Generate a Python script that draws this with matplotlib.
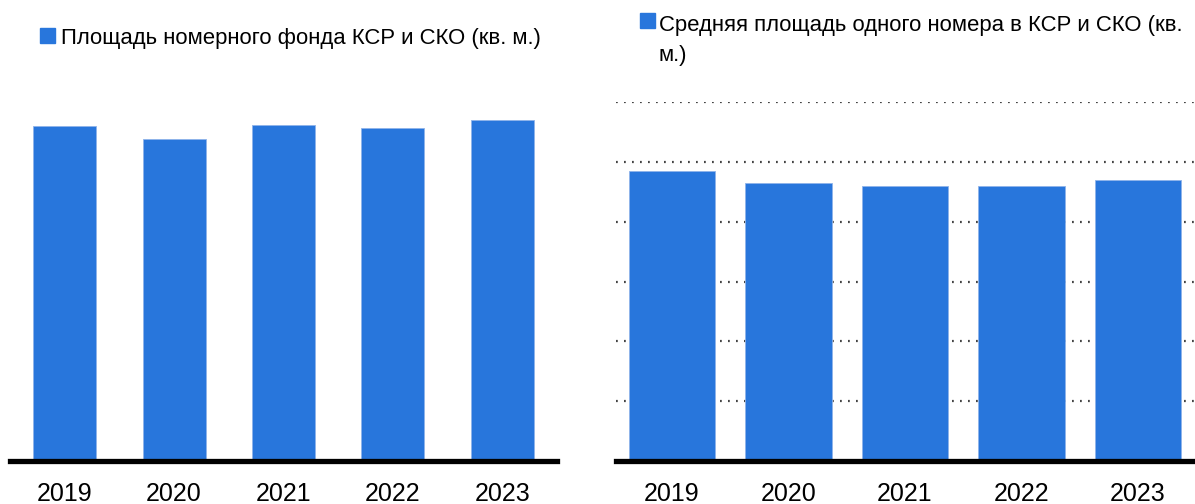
import matplotlib
matplotlib.use("Agg")
import matplotlib.pyplot as plt
from matplotlib.patches import Rectangle

# data
years = ["2019", "2020", "2021", "2022", "2023"]
room_area = [5600, 5380, 5620, 5570, 5700]        # площадь номерного фонда, кв. м (оценка)
avg_room_area = [24.2, 23.2, 23.0, 23.0, 23.5]    # средняя площадь номера, кв. м (оценка)
label_left = "Площадь номерного фонда КСР и СКО (кв. м.)"
label_right = "Средняя площадь одного номера в КСР и СКО (кв.\nм.)"

blue = "#2876dc"
plt.rcParams["font.family"] = ["Liberation Sans", "DejaVu Sans"]

W, H = 1195, 504
fig = plt.figure(figsize=(W / 100, H / 100), dpi=100)


def box(x0, y0, x1, y1):
    return [x0 / W, 1 - y1 / H, (x1 - x0) / W, (y1 - y0) / H]


ax1 = fig.add_axes(box(10, 102, 557, 461))
ax2 = fig.add_axes(box(616, 102, 1195, 461))

x = range(len(years))
ax1.bar(x, room_area, width=0.575, color=blue, edgecolor="#8fb4ea", linewidth=0.6, zorder=3)
ax1.set_xlim(-0.5, 4.5)
ax1.set_ylim(0, 6000)

ax2.bar(x, avg_room_area, width=0.74, color=blue, edgecolor="#8fb4ea", linewidth=0.6, zorder=3)
ax2.set_xlim(-0.48, 4.49)
ax2.set_ylim(0, 30)
for y in range(5, 31, 5):
    ax2.axhline(y, color="#444444", linewidth=1.6, linestyle=(0, (0.8, 2.8)), zorder=1)

for ax in (ax1, ax2):
    for s in ("top", "right", "left"):
        ax.spines[s].set_visible(False)
    ax.spines["bottom"].set_linewidth(3.8)
    ax.spines["bottom"].set_color("black")
    ax.spines["bottom"].set_zorder(4)
    ax.set_yticks([])
    ax.set_xticks(list(x))
    ax.set_xticklabels(years, fontsize=18)
    ax.tick_params(axis="x", length=0, pad=15)

# legends drawn by hand: square + text
fig.add_artist(Rectangle((40 / W, 1 - 43 / H), 15 / W, 15 / H, transform=fig.transFigure,
                         color=blue))
fig.text(61 / W, 1 - 44 / H, label_left, fontsize=15.9, va="baseline", ha="left")

fig.add_artist(Rectangle((640 / W, 1 - 28 / H), 15 / W, 15 / H, transform=fig.transFigure,
                         color=blue))
# va="baseline" on multi-line text aligns the last line
fig.text(659 / W, 1 - 61 / H, label_right, fontsize=15.9, va="baseline", ha="left",
         linespacing=1.55)

fig.savefig("out.png", dpi=100)
